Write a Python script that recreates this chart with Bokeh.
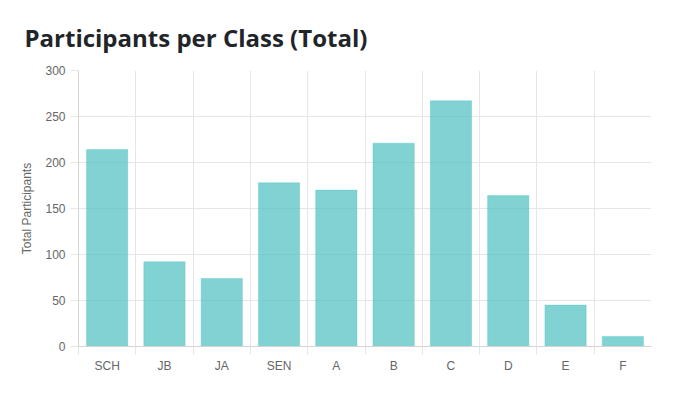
from bokeh.plotting import figure
from bokeh.models import Range1d, FixedTicker, ColumnDataSource
from bokeh.embed import file_html
from bokeh.resources import INLINE

title_text = "Participants per Class (Total)"
classes = ["SCH", "JB", "JA", "SEN", "A", "B", "C", "D", "E", "F"]
participants = [214, 92, 74, 178, 170, 221, 267, 164, 45, 11]
y_ticks = [0, 50, 100, 150, 200, 250, 300]

n = len(classes)
centers = [i + 0.5 for i in range(n)]
bounds = list(range(n))

src = ColumnDataSource(dict(x=centers, top=participants, name=classes))

p = figure(width=663, height=381, output_backend="svg", toolbar_location=None,
           x_range=Range1d(0, n), y_range=Range1d(0, y_ticks[-1]),
           min_border_left=78, min_border_right=12, min_border_top=70, min_border_bottom=35,
           title=title_text)
p.outline_line_color = None
p.background_fill_color = "white"
p.border_fill_color = "white"

p.title.text_font = "Open Sans"
p.title.text_font_size = "24px"
p.title.text_font_style = "bold"
p.title.text_color = "#212529"
p.title.align = "left"
p.title.offset = -54
p.title.standoff = 34

p.vbar(x="x", top="top", bottom=0, width=0.72, source=src,
       fill_color="#4bc0c0", fill_alpha=0.7, line_color="#4bc0c0", line_alpha=0.35, line_width=1)

grid_col = "#e6e6e6"
# x axis
xa = p.xaxis[0]
xa.ticker = FixedTicker(ticks=centers, minor_ticks=bounds)
xa.major_label_overrides = {c: lab for c, lab in zip(centers, classes)}
xa.major_tick_line_color = None
xa.minor_tick_in = 0
xa.minor_tick_out = 8
xa.minor_tick_line_color = grid_col
xa.axis_line_color = "#d4d4d4"
xa.major_label_standoff = 4
xa.major_label_text_font = "Liberation Sans"
xa.major_label_text_font_size = "12px"
xa.major_label_text_color = "#666666"

# y axis
ya = p.yaxis[0]
ya.ticker = FixedTicker(ticks=y_ticks)
ya.minor_tick_line_color = None
ya.major_tick_in = 0
ya.major_tick_out = 8
ya.major_tick_line_color = grid_col
ya.axis_line_color = "#d4d4d4"
ya.major_label_standoff = 5
ya.major_label_text_font = "Liberation Sans"
ya.major_label_text_font_size = "12px"
ya.major_label_text_color = "#666666"
ya.axis_label = "Total Participants"
ya.axis_label_text_font = "Liberation Sans"
ya.axis_label_text_font_size = "12px"
ya.axis_label_text_font_style = "normal"
ya.axis_label_text_color = "#666666"
ya.axis_label_standoff = 8

p.xgrid.ticker = FixedTicker(ticks=bounds)
p.xgrid.grid_line_color = grid_col
p.ygrid.ticker = FixedTicker(ticks=y_ticks)
p.ygrid.grid_line_color = grid_col

open("out.html", "w").write(file_html(p, INLINE))
